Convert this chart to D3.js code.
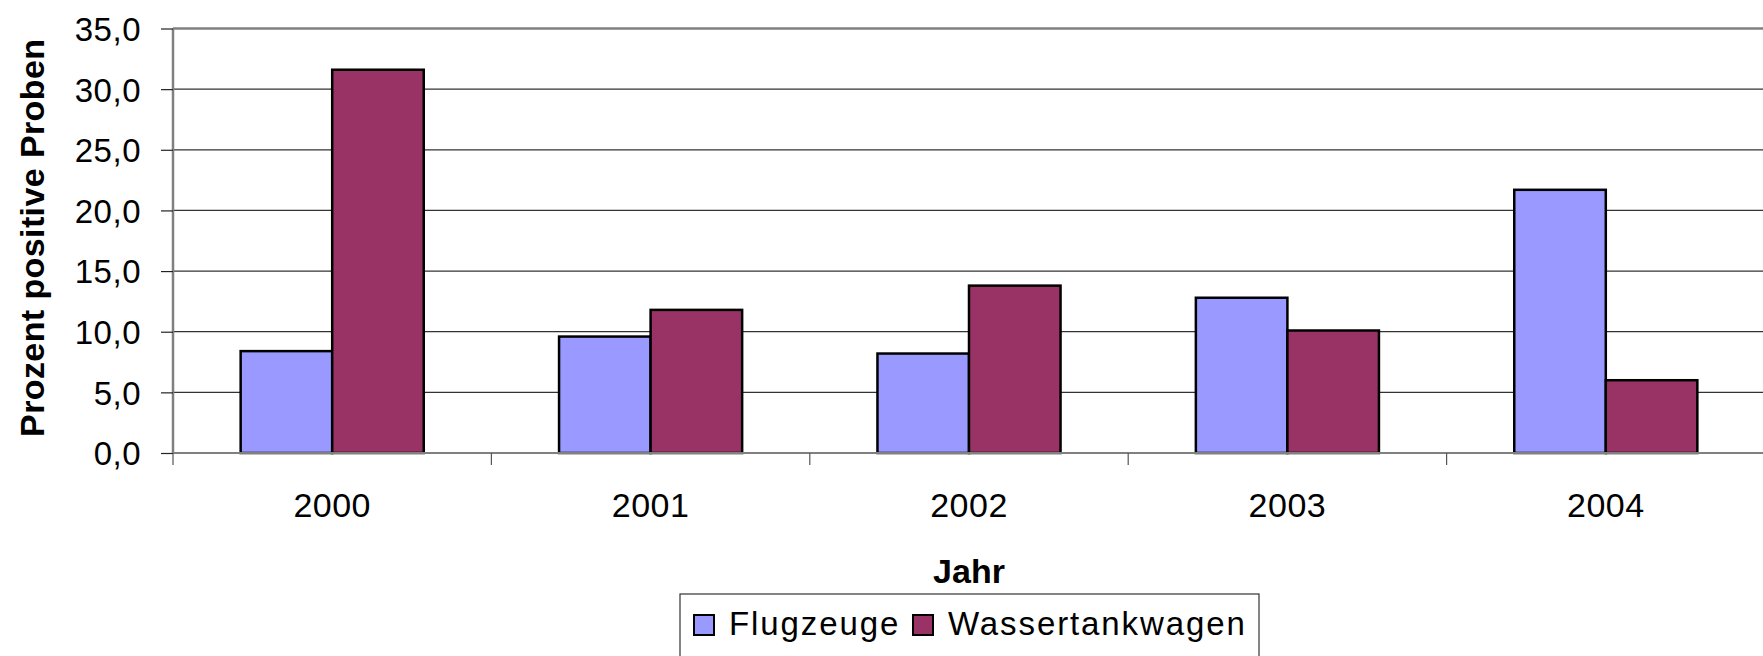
<!DOCTYPE html>
<html>
<head>
<meta charset="utf-8">
<script src="https://cdn.jsdelivr.net/npm/d3@7"></script>
<style>
  html, body { margin: 0; padding: 0; background: #fff; }
  svg { display: block; }
</style>
</head>
<body>
<svg width="1763" height="656"></svg>
<script>
// data
const years = ["2000", "2001", "2002", "2003", "2004"];
const seriesNames = ["Flugzeuge", "Wassertankwagen"];
const flugzeuge = [8.4, 9.6, 8.2, 12.8, 21.7];
const wassertankwagen = [31.6, 11.8, 13.8, 10.1, 6.0];
const yTicks = [0, 5, 10, 15, 20, 25, 30, 35];
const colors = ["#9999FF", "#993366"];

const svg = d3.select("svg");
const font = "Liberation Sans, Arial, sans-serif";

const plotL = 173, plotR = 1765, plotT = 28.5, plotB = 453;

const x = d3.scaleBand().domain(years).range([plotL, plotR]);
const bw = x.bandwidth();
const xs = d3.scaleBand().domain(seriesNames).range([bw * 0.2125, bw * 0.7875]);
const y = d3.scaleLinear().domain([0, 35]).range([plotB, plotT]);

// gridlines
svg.append("g")
   .selectAll("line")
   .data(yTicks.filter(d => d > 0 && d < 35))
   .join("line")
   .attr("x1", plotL).attr("x2", plotR)
   .attr("y1", d => y(d)).attr("y2", d => y(d))
   .attr("stroke", "#333")
   .attr("stroke-width", 1.2);

// plot border top
svg.append("line")
   .attr("x1", plotL).attr("x2", plotR)
   .attr("y1", plotT).attr("y2", plotT)
   .attr("stroke", "#808080")
   .attr("stroke-width", 2.5);

// bars
const rows = years.map((yr, i) => ({ year: yr, values: [flugzeuge[i], wassertankwagen[i]] }));
const groups = svg.append("g")
   .selectAll("g")
   .data(rows)
   .join("g")
   .attr("transform", d => `translate(${x(d.year)},0)`);

groups.selectAll("rect")
   .data(d => d.values.map((v, j) => ({ name: seriesNames[j], value: v, color: colors[j] })))
   .join("rect")
   .attr("x", d => xs(d.name))
   .attr("width", xs.bandwidth())
   .attr("y", d => y(d.value))
   .attr("height", d => y(0) - y(d.value))
   .attr("fill", d => d.color)
   .attr("stroke", "#000")
   .attr("stroke-width", 2.5);

// y axis
const yAxis = svg.append("g")
   .attr("transform", `translate(${plotL},0)`)
   .call(d3.axisLeft(y).tickValues(yTicks).tickSize(12).tickPadding(20)
      .tickFormat(d => d3.format(".1f")(d).replace(".", ",")));
yAxis.select(".domain").attr("stroke", "#808080").attr("stroke-width", 2.5)
   .attr("d", `M0,${plotT}V${plotB}`);
yAxis.selectAll(".tick line").attr("stroke", "#222").attr("stroke-width", 1.2);
yAxis.selectAll(".tick text")
   .attr("font-family", font)
   .attr("font-size", "33px")
   .attr("letter-spacing", "0.5px")
   .attr("fill", "#000")
   .attr("dy", "0.36em");

// x axis (ticks at band boundaries)
svg.append("line")
   .attr("x1", plotL).attr("x2", plotR)
   .attr("y1", plotB).attr("y2", plotB)
   .attr("stroke", "#808080")
   .attr("stroke-width", 2);

svg.append("g")
   .selectAll("line")
   .data(years.concat(["end"]))
   .join("line")
   .attr("x1", (d, i) => plotL + i * bw).attr("x2", (d, i) => plotL + i * bw)
   .attr("y1", plotB).attr("y2", plotB + 12)
   .attr("stroke", "#555")
   .attr("stroke-width", 1.2);

svg.append("g")
   .selectAll("text")
   .data(years)
   .join("text")
   .attr("x", d => x(d) + bw / 2)
   .attr("y", 517)
   .attr("text-anchor", "middle")
   .attr("font-family", font)
   .attr("font-size", "34px")
   .attr("letter-spacing", "0.5px")
   .attr("fill", "#000")
   .text(d => d);

// axis titles
svg.append("text")
   .attr("transform", `translate(44,${(plotT + plotB) / 2 - 3}) rotate(-90)`)
   .attr("text-anchor", "middle")
   .attr("font-family", font)
   .attr("font-size", "34px")
   .attr("letter-spacing", "0.4px")
   .attr("font-weight", "bold")
   .attr("fill", "#000")
   .text("Prozent positive Proben");

svg.append("text")
   .attr("x", (plotL + plotR) / 2)
   .attr("y", 583)
   .attr("text-anchor", "middle")
   .attr("font-family", font)
   .attr("font-size", "34px")
   .attr("font-weight", "bold")
   .attr("fill", "#000")
   .text("Jahr");

// legend
const legend = svg.append("g");
legend.append("rect")
   .attr("x", 680).attr("y", 594)
   .attr("width", 579).attr("height", 80)
   .attr("fill", "#fff")
   .attr("stroke", "#333")
   .attr("stroke-width", 1.2);

const legendX = [694, 913];
const items = legend.selectAll("g.item")
   .data(seriesNames)
   .join("g")
   .attr("class", "item")
   .attr("transform", (d, i) => `translate(${legendX[i]},615)`);
items.append("rect")
   .attr("width", 20).attr("height", 20)
   .attr("fill", (d, i) => colors[i])
   .attr("stroke", "#000")
   .attr("stroke-width", 2);
items.append("text")
   .attr("x", 35)
   .attr("y", 19.5)
   .attr("font-family", font)
   .attr("font-size", "33px")
   .attr("letter-spacing", "1.9px")
   .attr("fill", "#000")
   .text(d => d);
</script>
</body>
</html>
